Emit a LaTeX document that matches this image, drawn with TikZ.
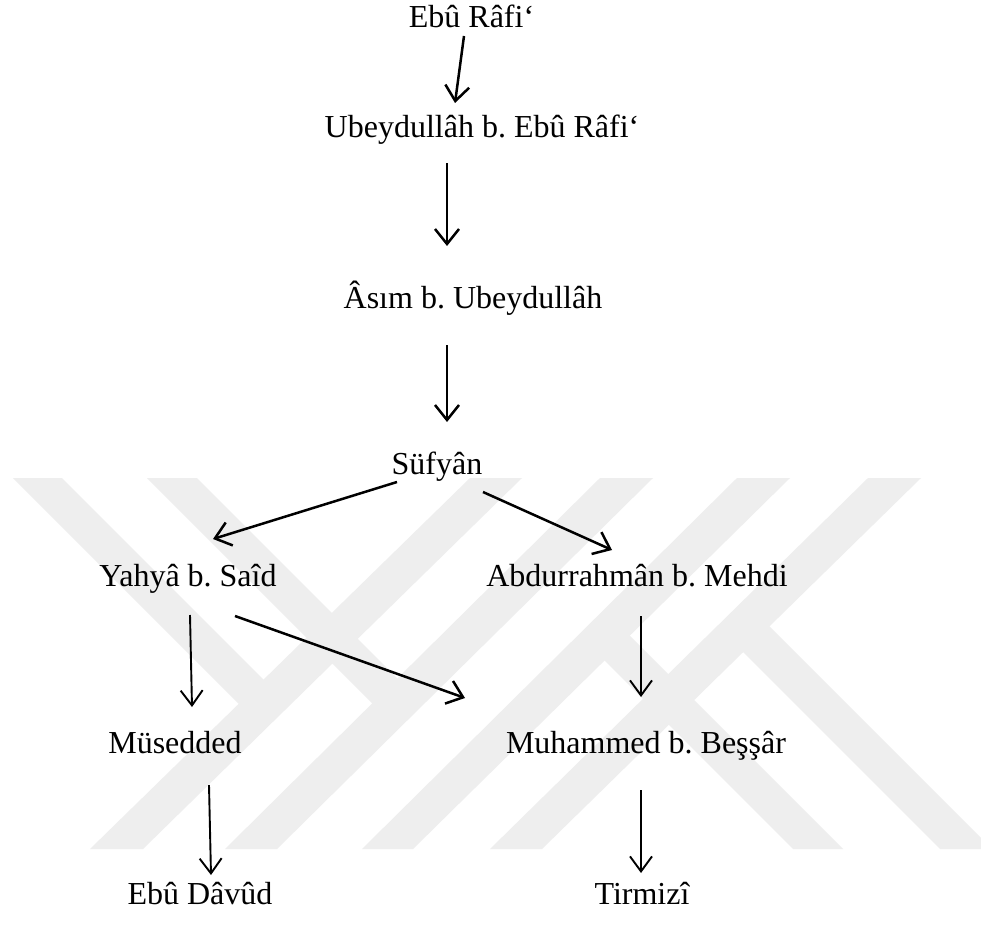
\documentclass[tikz,border=0pt]{standalone}
\usepackage{fontspec}
\setmainfont{Liberation Serif}
\usetikzlibrary{arrows.meta}
\definecolor{wm}{RGB}{238,238,238}
\frenchspacing
\begin{document}
\begin{tikzpicture}[x=1pt,y=-1pt,
  lbl/.style={anchor=base, inner sep=0pt, font=\rmfamily\fontsize{32}{38}\selectfont},
  arr/.style={line width=2.5pt, -{Straight Barb[length=15pt,width=24pt]}},
  arrthin/.style={line width=1.9pt, -{Straight Barb[length=15pt,width=22pt]}}]
\useasboundingbox (0,0) rectangle (981,931);
\fill[white] (0,0) rectangle (981,931);
% watermark
\begin{scope}
\clip (0,0) rectangle (981,931);
\fill[wm] (90,849) -- (143,849) -- (522,478) -- (470,478) -- cycle;
\fill[wm] (225,849) -- (277,849) -- (653,478) -- (600,478) -- cycle;
\fill[wm] (362,849) -- (413,849) -- (790,478) -- (737,478) -- cycle;
\fill[wm] (490,849) -- (542,849) -- (921,478) -- (868,478) -- cycle;
\fill[wm] (13,478) -- (62,478) -- (276.5,692.6) -- (251.8,716.8) -- cycle;
\fill[wm] (147,478) -- (197,478) -- (410.4,691.4) -- (385.3,716.3) -- cycle;
\fill[wm] (793,849) -- (843,849) -- (616.7,622.7) -- (591.6,647.6) -- cycle;
\fill[wm] (940,849) -- (992,849) -- (756.4,613.4) -- (730.1,639.1) -- cycle;
\end{scope}
% nodes
\node[lbl] (n1) at (471.5,28) {Ebû Râfi‘};
\node[lbl] (n2) at (482,137) {Ubeydullâh b. Ebû Râfi‘};
\node[lbl] (n3) at (473,308) {Âsım b. Ubeydullâh};
\node[lbl] (n4) at (437,474) {Süfyân};
\node[lbl] (n5) at (188,586) {Yahyâ b. Saîd};
\node[lbl] (n6) at (637,586) {Abdurrahmân b. Mehdi};
\node[lbl] (n7) at (175,753) {Müsedded};
\node[lbl] (n8) at (646,753) {Muhammed b. Beşşâr};
\node[lbl] (n9) at (200,904) {Ebû Dâvûd};
\node[lbl] (n10) at (642,904) {Tirmizî};
% connector ends
\coordinate (a1s) at (464,36);  \coordinate (a1e) at (455,103);
\coordinate (a2s) at (447,163); \coordinate (a2e) at (447,246);
\coordinate (a3s) at (447,345); \coordinate (a3e) at (447,422);
\coordinate (a4s) at (397,482); \coordinate (a4e) at (213,539);
\coordinate (a5s) at (483,492); \coordinate (a5e) at (612,550);
\coordinate (a6s) at (190,615); \coordinate (a6e) at (192,707);
\coordinate (a7s) at (235,616); \coordinate (a7e) at (465,698);
\coordinate (a8s) at (641,616); \coordinate (a8e) at (641,697);
\coordinate (a9s) at (209,785); \coordinate (a9e) at (211,875);
\coordinate (a10s) at (641,790); \coordinate (a10e) at (641,873);
\draw[arr] (a1s) -- (a1e);
\draw[arr] (a2s) -- (a2e);
\draw[arr] (a3s) -- (a3e);
\draw[arr] (a4s) -- (a4e);
\draw[arr] (a5s) -- (a5e);
\draw[arrthin] (a6s) -- (a6e);
\draw[arr] (a7s) -- (a7e);
\draw[arrthin] (a8s) -- (a8e);
\draw[arrthin] (a9s) -- (a9e);
\draw[arrthin] (a10s) -- (a10e);
\end{tikzpicture}
\end{document}
